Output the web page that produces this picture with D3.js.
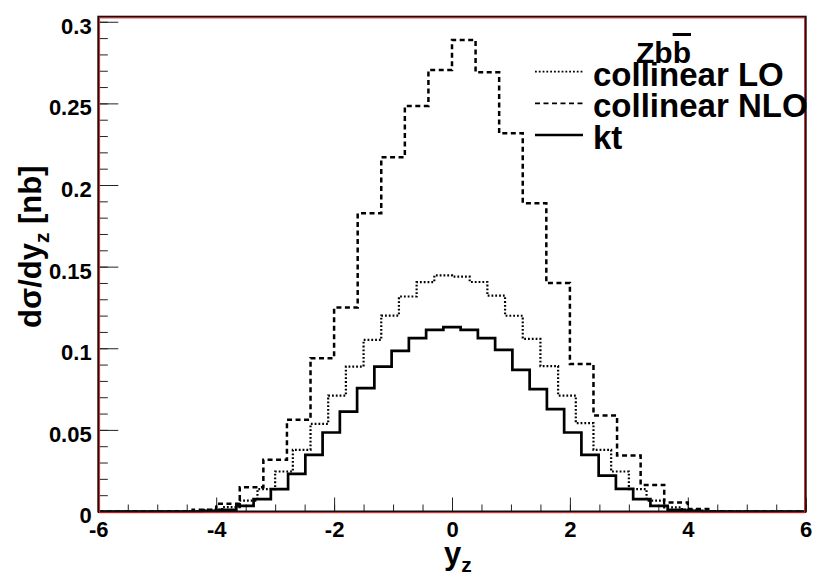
<!DOCTYPE html>
<html>
<head>
<meta charset="utf-8">
<script src="https://cdn.jsdelivr.net/npm/d3@7"></script>
<style>
  body { margin: 0; background: #fff; }
  text { font-family: "Liberation Sans", Arial, Helvetica, sans-serif; font-weight: bold; }
</style>
</head>
<body>
<div id="chart"></div>
<script>
// bin contents (nb per unit y_z), range -6..6
var collinearNLO = [0, 0, 0, 0.0002, 0.001, 0.0048, 0.0149, 0.0317, 0.0562, 0.0939,
	0.1249, 0.1827, 0.217, 0.2484, 0.2705, 0.2889, 0.269, 0.2317, 0.1889, 0.1399,
	0.0904, 0.0588, 0.0343, 0.0163, 0.0055, 0.0015, 0.0002, 0, 0, 0];

var collinearLO = [0, 0, 0, 0, 0, 0.0003, 0.001, 0.0027, 0.0067, 0.0137,
	0.0245, 0.0378, 0.0537, 0.071, 0.0888, 0.1051, 0.12, 0.1317, 0.1405, 0.1447,
	0.1439, 0.1406, 0.1322, 0.1199, 0.1057, 0.0891, 0.071, 0.0541, 0.0378, 0.0245,
	0.0137, 0.0067, 0.0025, 0.001, 0.0003, 0, 0, 0, 0, 0];

var kt = [0, 0, 0, 0, 0, 0, 0.0004, 0.001, 0.0035, 0.0076,
	0.0137, 0.0231, 0.0347, 0.0484, 0.0612, 0.0756, 0.0888, 0.0984, 0.1062, 0.1113,
	0.1129, 0.1113, 0.1062, 0.099, 0.0868, 0.075, 0.0627, 0.0484, 0.0347, 0.022,
	0.0139, 0.0076, 0.0035, 0.001, 0.0004, 0, 0, 0, 0, 0, 0];

var xTicks = [-6, -4, -2, 0, 2, 4, 6];
var yTicks = [0, 0.05, 0.1, 0.15, 0.2, 0.25, 0.3];
var legendLabels = ["collinear LO", "collinear NLO", "kt"];

var width = 815,
	height = 577,
	fLeft = 98.3, fRight = 805.7, fTop = 16.7, fBottom = 511.5;

var svg = d3.select("#chart").append("svg")
	.attr("width", width)
	.attr("height", height);

svg.append("rect").attr("width", width).attr("height", height).style("fill", "#fff");

var x = d3.scaleLinear().domain([-6, 6]).range([fLeft, fRight]);
var y = d3.scaleLinear().domain([0, 0.3031]).range([fBottom, fTop]);

// minor ticks
svg.append("g")
	.attr("transform", "translate(0," + fBottom + ")")
	.call(d3.axisBottom(x).tickValues(d3.range(-6, 6.01, 0.5)).tickSize(-7).tickFormat(""))
	.call(function (g) { g.select(".domain").remove(); });
svg.append("g")
	.attr("transform", "translate(" + fLeft + ",0)")
	.call(d3.axisLeft(y).tickValues(d3.range(0, 0.3001, 0.01)).tickSize(-9.5).tickFormat(""))
	.call(function (g) { g.select(".domain").remove(); });

// major ticks + labels
var xAxis = svg.append("g")
	.attr("transform", "translate(0," + fBottom + ")")
	.call(d3.axisBottom(x).tickValues(xTicks).tickSize(-14).tickPadding(9.5)
		.tickFormat(function (d) { return String(d); }));
xAxis.select(".domain").remove();
xAxis.selectAll("text").style("font-size", "22px").style("fill", "#000");

var yAxis = svg.append("g")
	.attr("transform", "translate(" + fLeft + ",0)")
	.call(d3.axisLeft(y).tickValues(yTicks).tickSize(-20).tickPadding(6.6)
		.tickFormat(d3.format("~g")));
yAxis.select(".domain").remove();
yAxis.selectAll("text").style("font-size", "22px").style("fill", "#000").attr("dy", "0.52em");

svg.selectAll(".tick line").style("stroke", "#222");

// histograms
function edges(n) {
	return d3.range(n + 1).map(function (i) { return -6 + i * 12 / n; });
}

function histPath(values) {
	var e = edges(values.length);
	var pts = values.map(function (v, i) { return [e[i], v]; });
	pts.push([e[values.length], values[values.length - 1]]);
	return d3.line()
		.x(function (d) { return x(d[0]); })
		.y(function (d) { return y(d[1]); })
		.curve(d3.curveStepAfter)(pts);
}

var styles = [
	{ data: collinearLO, dash: "1.8,2", w: 2.2 },
	{ data: collinearNLO, dash: "5,3.5", w: 2.5 },
	{ data: kt, dash: null, w: 2.7 }
];

styles.forEach(function (s) {
	svg.append("path")
		.attr("d", histPath(s.data))
		.style("fill", "none")
		.style("stroke", "#000")
		.style("stroke-width", s.w)
		.style("stroke-dasharray", s.dash);
});

// frame
svg.append("rect")
	.attr("x", fLeft).attr("y", fTop)
	.attr("width", fRight - fLeft).attr("height", fBottom - fTop)
	.style("fill", "none").style("stroke", "#111").style("stroke-width", 2);
svg.append("rect")
	.attr("x", fLeft + 1.3).attr("y", fTop + 1.2)
	.attr("width", fRight - fLeft - 2.4).attr("height", fBottom - fTop)
	.style("fill", "none").style("stroke", "#d22").style("stroke-width", 1);

// legend
var legend = svg.append("g");
legend.append("text")
	.attr("x", 636).attr("y", 63)
	.style("font-size", "30px")
	.text("Zb")
	.append("tspan")
	.style("text-decoration", "overline")
	.text("b");

var rowY = [71.7, 103.3, 135];
legendLabels.forEach(function (label, i) {
	legend.append("line")
		.attr("x1", 535).attr("x2", 583)
		.attr("y1", rowY[i]).attr("y2", rowY[i])
		.style("stroke", "#000")
		.style("stroke-width", i == 2 ? 2.4 : 1.7)
		.style("stroke-dasharray", styles[i].dash);
	legend.append("text")
		.attr("x", 593).attr("y", rowY[i] + 14)
		.style("font-size", "33px")
		.text(label);
});

// axis titles
var xt = svg.append("text")
	.attr("x", 444).attr("y", 564)
	.style("font-size", "31px");
xt.append("tspan").text("y");
xt.append("tspan").attr("dy", 8).style("font-size", "21px").text("z");

var yt = svg.append("text")
	.attr("transform", "translate(41,328) rotate(-90)")
	.style("font-size", "31px");
yt.append("tspan").text("dσ/dy");
yt.append("tspan").attr("dy", 8).style("font-size", "21px").text("z");
yt.append("tspan").attr("dy", -8).text(" [nb]");
</script>
</body>
</html>
